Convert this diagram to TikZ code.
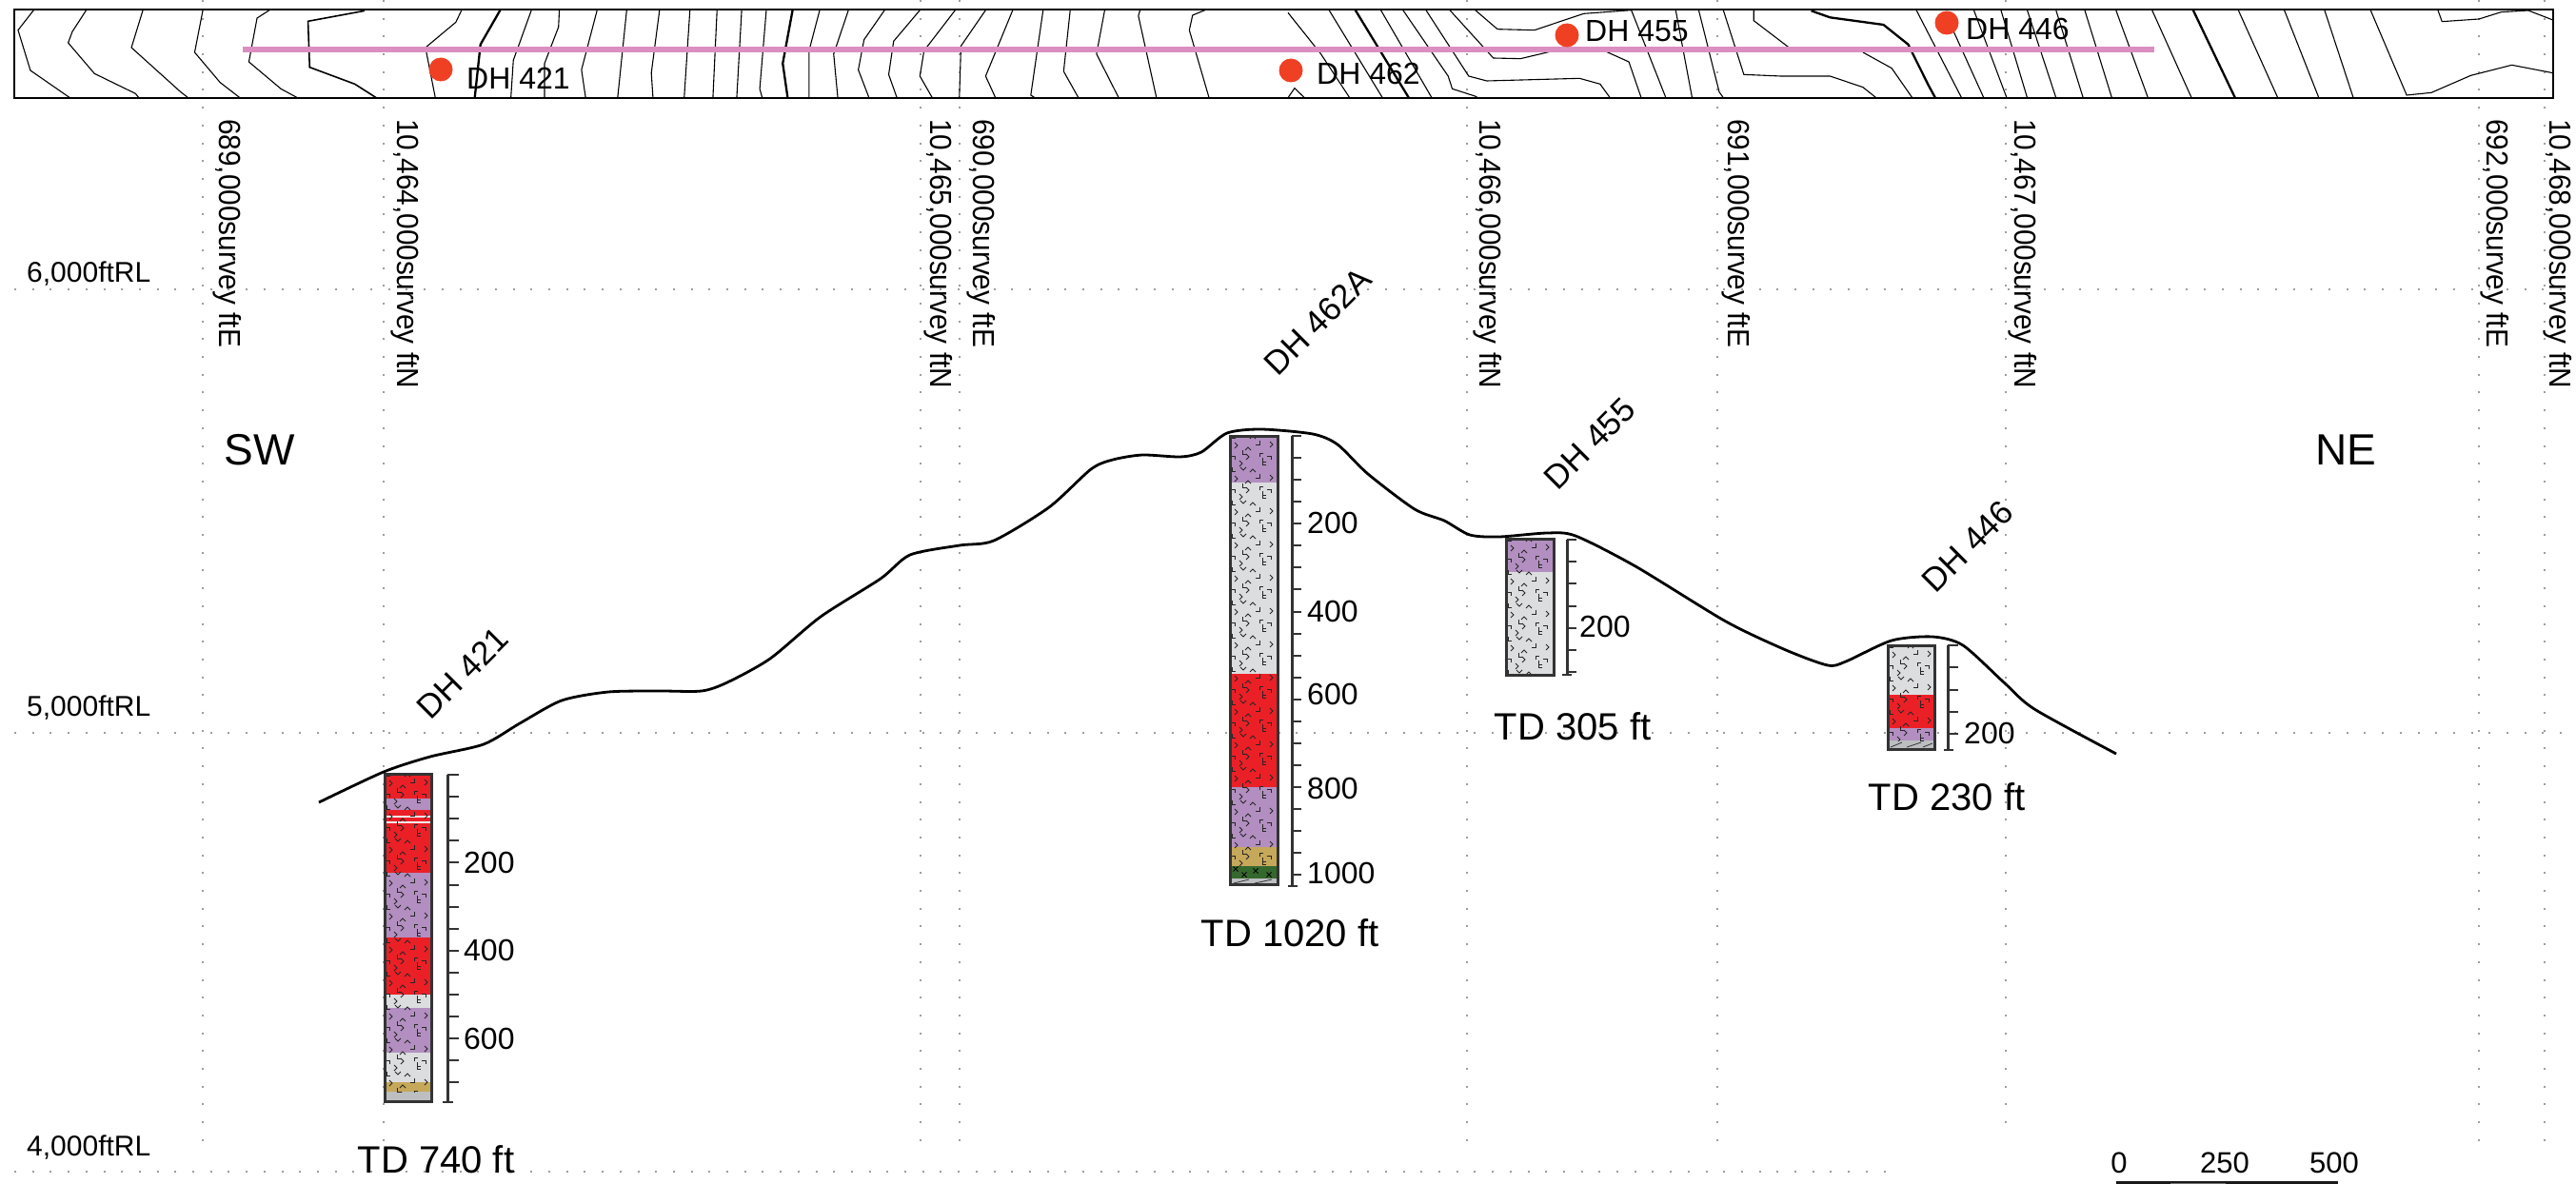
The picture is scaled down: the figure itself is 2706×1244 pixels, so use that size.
\documentclass[tikz,border=0pt]{standalone}
\usepackage{fontspec}
\setmainfont{Liberation Sans}
\newfontfamily\axisfont[FakeStretch=.93]{Liberation Sans}
\usetikzlibrary{positioning, calc}
\definecolor{redrock}{HTML}{EB2027}
\definecolor{purplerock}{HTML}{B28FC0}
\definecolor{greyrock}{HTML}{DCDDDF}
\definecolor{tanrock}{HTML}{C6A85A}
\definecolor{baserock}{HTML}{BCBEC0}
\definecolor{greenrock}{HTML}{35682D}
\definecolor{sectionline}{HTML}{DA8FC0}
\definecolor{collar}{HTML}{F04023}
\definecolor{logline}{HTML}{333333}
\newcommand{\fs}[1]{\fontsize{#1}{#1}\selectfont}
% volcanic marks, one tile is 35 high
\newcommand{\rockmarks}[4]{
  \begin{scope}[shift={(#1,#2)}]
    \clip (0,0) rectangle (#3,#4);
    \foreach \tn in {0,...,13}
      \foreach \gx/\gy/\ga in {14/1/180,24/0/0,34/-5/135,2/2/135,8/10/-90,19/12/0,31/9/-135,45/9/-90,
                               5/21/-45,13/19/135,20/22/-90,31/18/45,43/21/-45,13/29/-90,34/27/135}
        \draw[rockmark,shift={(\gx,\gy+\tn*35)},rotate=\ga] (-3,3) -- (0,0) -- (3,3);
  \end{scope}
}
\tikzset{
  griddot/.style={draw=black!38,line width=2pt,dash pattern=on 2pt off 16.7pt},
  contour/.style={draw=black,line width=1.1pt},
  indexcontour/.style={draw=black,line width=2.3pt},
  rockmark/.style={draw=black!85,line width=1pt},
  logbox/.style={draw=logline,line width=3pt},
  logspine/.style={draw=logline,line width=3pt},
  logtick/.style={draw=logline,line width=2pt},
  ground/.style={draw=black,line width=2.8pt},
  collardot/.style={circle,fill=collar,minimum size=25pt,inner sep=0pt},
  collartext/.style={font=\fs{32},inner sep=0pt,anchor=west},
  axislabel/.style={font=\axisfont\fs{32},inner sep=0pt,rotate=-90,anchor=west},
  rllabel/.style={font=\fs{30},inner sep=0pt,anchor=west},
  holelabel/.style={font=\fs{35},inner sep=0pt,rotate=45},
  depthlabel/.style={font=\fs{32},inner sep=0pt,anchor=west},
  tdlabel/.style={font=\fs{40},inner sep=0pt},
  endlabel/.style={font=\fs{46},inner sep=0pt},
  barlabel/.style={font=\fs{31},inner sep=0pt}
}
\begin{document}
\begin{tikzpicture}[x=1pt,y=-1pt]
  \useasboundingbox (0,0) rectangle (2706,1244);

  % grid
  \foreach \gx/\gend in {213/1205,403/1205,967/1205,1008/1205,1541/1205,1804/1205,2107/1186,2604/1205,2673/1205}
    \draw[griddot] (\gx,0) -- (\gx,\gend);
  \foreach \gy in {304,770}
    \draw[griddot] (15,\gy) -- (2700,\gy);
  \draw[griddot] (15,1231) -- (1995,1231);

  % plan strip, western half
  \begin{scope}[xscale=.8628,yscale=.3333]
    \draw[contour] (41,32) -- (22,95) -- (37,222) -- (85,308);
    \draw[contour] (105,32) -- (88,100) -- (83,135) -- (115,232) -- (165,295) -- (169,308);
    \draw[contour] (174,32) -- (160,150) -- (220,290) -- (229,308);
    \draw[contour] (247,32) -- (237,165) -- (268,260) -- (292,308);
    \draw[contour] (328,32) -- (313,57) -- (303,195) -- (342,280) -- (362,308);
    \draw[contour,line width=1.6pt] (444,34) -- (375,67) -- (377,212) -- (432,265) -- (458,308);
    \draw[contour] (562,32) -- (555,70) -- (518,150) -- (530,308);
    \draw[indexcontour] (609,32) -- (585,140) -- (578,308);
    \draw[contour] (647,32) -- (625,190) -- (622,308);
    \draw[contour] (681,32) -- (680,85) -- (663,200) -- (663,308);
    \draw[contour] (727,32) -- (708,220) -- (713,308);
    \draw[contour] (763,32) -- (752,308);
    \draw[contour] (803,32) -- (793,230) -- (795,308);
    \draw[contour] (840,32) -- (833,308);
    \draw[contour] (873,32) -- (868,308);
    \draw[contour] (903,32) -- (897,308);
    \draw[contour] (933,32) -- (925,280) -- (928,308);
    \draw[indexcontour] (965,32) -- (953,200) -- (959,308);
    \draw[contour] (998,32) -- (985,160) -- (985,308);
    \draw[contour] (1033,32) -- (1015,170) -- (1020,308);
    \draw[contour] (1077,32) -- (1052,125) -- (1045,220) -- (1058,308);
    \draw[contour] (1120,32) -- (1088,130) -- (1082,235) -- (1092,308);
    \draw[contour] (1163,32) -- (1125,160) -- (1120,240) -- (1135,308);
    \draw[contour] (1200,32) -- (1170,145) -- (1168,308);
    \draw[contour] (1233,32) -- (1200,240) -- (1212,308);
    \draw[contour] (1270,32) -- (1255,300) -- (1260,308);
    \draw[contour] (1303,32) -- (1295,225) -- (1313,308);
    \draw[contour] (1345,32) -- (1335,170) -- (1362,308);
    \draw[contour] (1388,32) -- (1386,50) -- (1408,308);
    \draw[contour] (1467,32) -- (1452,48) -- (1448,95) -- (1472,308);
  \end{scope}
  % plan strip, eastern half
  \begin{scope}[shift={(1353,0)},xscale=.8628,yscale=.3333]
    \draw[contour] (0,40) -- (40,170) -- (75,308);
    \draw[contour] (0,308) -- (8,278) -- (20,308);
    \draw[contour] (50,32) -- (115,308);
    \draw[indexcontour] (82,32) -- (147,308);
    \draw[contour] (113,32) -- (175,308);
    \draw[contour] (140,32) -- (195,240) -- (200,280) -- (230,305);
    \draw[contour] (168,32) -- (220,240) -- (242,255) -- (355,247) -- (380,265) -- (392,308);
    \draw[contour] (197,32) -- (250,183) -- (283,185) -- (340,150) -- (385,160) -- (415,195) -- (430,308);
    \draw[contour] (228,32) -- (255,92) -- (300,95) -- (360,43) -- (418,32) -- (460,308);
    \draw[contour] (472,32) -- (492,308);
    \draw[contour] (500,32) -- (525,290) -- (530,308);
    \draw[contour] (530,32) -- (555,235) -- (600,240) -- (660,240) -- (700,275) -- (716,308);
    \draw[contour] (567,32) -- (567,65) -- (610,150);
    \draw[contour] (700,165) -- (735,215) -- (760,308);
    \draw[indexcontour] (637,34) -- (660,55) -- (725,78) -- (755,140) -- (780,270) -- (788,308);
    \draw[contour] (765,32) -- (820,308);
    \draw[contour] (800,40) -- (847,308);
    \draw[contour] (835,32) -- (875,308);
    \draw[contour] (868,32) -- (900,308);
    \draw[contour] (900,32) -- (935,308);
    \draw[contour] (935,32) -- (968,308);
    \draw[contour] (970,32) -- (1003,308);
    \draw[contour] (1008,32) -- (1047,308);
    \draw[contour] (1052,32) -- (1100,308);
    \draw[indexcontour] (1102,32) -- (1153,308);
    \draw[contour] (1157,32) -- (1205,308);
    \draw[contour] (1213,32) -- (1255,308);
    \draw[contour] (1262,32) -- (1297,308);
    \draw[contour] (1318,32) -- (1362,300) -- (1392,292) -- (1440,238) -- (1490,205) -- (1540,230);
    \draw[contour] (1400,32) -- (1405,68) -- (1450,60) -- (1477,38) -- (1510,33) -- (1540,63);
  \end{scope}
  \draw[black,line width=2pt] (15,10) rectangle (2682,103);
  \draw[sectionline,line width=6pt] (255,52) -- (2263,52);

  \node[collardot] (c421) at (463,73) {};
  \node[collardot] (c462) at (1356,74) {};
  \node[collardot] (c455) at (1646,37) {};
  \node[collardot] (c446) at (2045,24) {};
  \node[collartext] (t421) at (490,82) {DH 421};
  \node[collartext] (t462) at (1383,77) {DH 462};
  \node[collartext] (t455) at (1665,33) {DH 455};
  \node[collartext] (t446) at (2065,30) {DH 446};

  % grid labels
  \node[axislabel] (e689) at (239,125) {689,000survey ftE};
  \node[axislabel] (n464) at (426,125) {10,464,000survey ftN};
  \node[axislabel] (n465) at (986,125) {10,465,000survey ftN};
  \node[axislabel] (e690) at (1031,125) {690,000survey ftE};
  \node[axislabel] (n466) at (1563,125) {10,466,000survey ftN};
  \node[axislabel] (e691) at (1824,125) {691,000survey ftE};
  \node[axislabel] (n467) at (2125,125) {10,467,000survey ftN};
  \node[axislabel] (e692) at (2621,125) {692,000survey ftE};
  \node[axislabel] (n468) at (2687,125) {10,468,000survey ftN};
  \node[rllabel] (rl6000) at (28,288) {6,000ftRL};
  \node[rllabel] (rl5000) at (28,744) {5,000ftRL};
  \node[rllabel] (rl4000) at (28,1206) {4,000ftRL};
  \node[endlabel] (sw) at (273,473) {SW};
  \node[endlabel] (ne) at (2464,473) {NE};

  % DH 421
  \fill[redrock] (404,813) rectangle (453,1045);
  \fill[purplerock] (404,839) rectangle (453,851);
  \fill[greyrock!40] (404,857) rectangle (453,859);
  \fill[greyrock!40] (404,863) rectangle (453,865);
  \fill[purplerock] (404,917) rectangle (453,985);
  \fill[greyrock] (404,1045) rectangle (453,1059);
  \fill[purplerock] (404,1059) rectangle (453,1106);
  \fill[greyrock] (404,1106) rectangle (453,1137);
  \fill[tanrock] (404,1137) rectangle (453,1147);
  \fill[baserock] (404,1147) rectangle (453,1157);
  \rockmarks{404}{813}{49}{334}
  \draw[logbox] (404,813) rectangle (453,1157);
  \draw[logspine] (470,814) -- (470,1158);
  \foreach \tn in {0,...,14}
    \draw[logtick] (470,814+\tn*23.1) -- ++(12,0);
  \draw[logtick] (465,1158) -- (476,1158);
  \node[depthlabel] (d421a) at (487,906) {200};
  \node[depthlabel] (d421b) at (487,998) {400};
  \node[depthlabel] (d421c) at (487,1091) {600};
  \node[holelabel] (h421) at (486,707) {DH 421};
  \node[tdlabel] (td421) at (458,1218) {TD 740 ft};

  % DH 462A
  \fill[purplerock] (1292,458) rectangle (1342,507);
  \fill[greyrock] (1292,507) rectangle (1342,708);
  \fill[redrock] (1292,708) rectangle (1342,827);
  \fill[purplerock] (1292,827) rectangle (1342,890);
  \fill[tanrock] (1292,890) rectangle (1342,910);
  \fill[greenrock] (1292,910) rectangle (1342,923);
  \fill[baserock] (1292,923) rectangle (1342,929);
  \rockmarks{1292}{458}{50}{452}
  \foreach \gx/\gy in {1298/913,1307/919,1319/915,1333/919} {
    \draw[line width=.9pt] (\gx-2.5,\gy-2.5) -- (\gx+2.5,\gy+2.5);
    \draw[line width=.9pt] (\gx-2.5,\gy+2.5) -- (\gx+2.5,\gy-2.5);
  }
  \draw[black!80,line width=.8pt] (1296,928) -- (1312,924);
  \draw[black!80,line width=.8pt] (1318,928) -- (1336,924);
  \draw[logbox] (1292,458) rectangle (1342,929);
  \draw[logspine] (1357,458) -- (1357,931);
  \foreach \tn in {0,...,20}
    \draw[logtick] (1357,458+\tn*23.07) -- ++(10,0);
  \draw[logtick] (1353,931) -- (1363,931);
  \node[depthlabel] (d462a) at (1373,549) {200};
  \node[depthlabel] (d462b) at (1373,642) {400};
  \node[depthlabel] (d462c) at (1373,729) {600};
  \node[depthlabel] (d462d) at (1373,828) {800};
  \node[depthlabel] (d462e) at (1373,917) {1000};
  \node[holelabel] (h462) at (1384,338) {DH 462A};
  \node[tdlabel] (td462) at (1355,980) {TD 1020 ft};

  % DH 455
  \fill[purplerock] (1582,566) rectangle (1632,601);
  \fill[greyrock] (1582,601) rectangle (1632,709);
  \rockmarks{1582}{566}{50}{143}
  \draw[logbox] (1582,566) rectangle (1632,709);
  \draw[logspine] (1646,567) -- (1646,709);
  \foreach \tn in {0,...,6}
    \draw[logtick] (1646,567+\tn*23.2) -- ++(10,0);
  \draw[logtick] (1641,709) -- (1651,709);
  \node[depthlabel] (d455a) at (1659,658) {200};
  \node[holelabel] (h455) at (1670,466) {DH 455};
  \node[tdlabel] (td455) at (1652,763) {TD 305 ft};

  % DH 446
  \fill[greyrock] (1983,678) rectangle (2032,730);
  \fill[redrock] (1983,730) rectangle (2032,765);
  \fill[purplerock] (1983,765) rectangle (2032,778);
  \fill[baserock] (1983,778) rectangle (2032,787);
  \rockmarks{1983}{678}{49}{100}
  \draw[black!80,line width=.8pt] (1986,785) -- (1998,780);
  \draw[black!80,line width=.8pt] (2003,785) -- (2018,780);
  \draw[black!80,line width=.8pt] (2020,785) -- (2030,781);
  \draw[logbox] (1983,678) rectangle (2032,787);
  \draw[logspine] (2046,678) -- (2046,788);
  \foreach \tn in {0,...,4}
    \draw[logtick] (2046,678+\tn*23.3) -- ++(11,0);
  \draw[logtick] (2042,788) -- (2052,788);
  \node[depthlabel] (d446a) at (2063,770) {200};
  \node[holelabel] (h446) at (2067,574) {DH 446};
  \node[tdlabel] (td446) at (2045,837) {TD 230 ft};

  % ground surface
  \draw[ground,line join=round] plot[smooth,tension=.45] coordinates {
    (335,843) (403,811) (452,795) (508,782) (546,760) (590,736) (639,727) (693,726)
    (737,726) (764,717) (809,692) (862,648) (925,608) (956,583) (1008,573) (1044,568)
    (1102,533) (1146,493) (1169,483) (1200,478) (1240,480) (1262,475) (1289,455) (1325,451)
    (1379,456) (1405,467) (1437,498) (1486,535) (1517,547) (1544,562) (1575,564) (1625,560)
    (1655,563) (1718,595) (1813,653) (1876,683) (1920,699) (1939,695) (1987,673) (2030,669)
    (2062,678) (2105,717) (2137,745) (2223,792)};

  % scale bar
  \node[barlabel] (b0) at (2226,1222) {0};
  \node[barlabel] (b250) at (2337,1222) {250};
  \node[barlabel] (b500) at (2452,1222) {500};
  \fill[black!90] (2223,1241) rectangle (2456,1244);
  \fill[black!55] (2280,1243) rectangle (2338,1244);
\end{tikzpicture}
\end{document}
